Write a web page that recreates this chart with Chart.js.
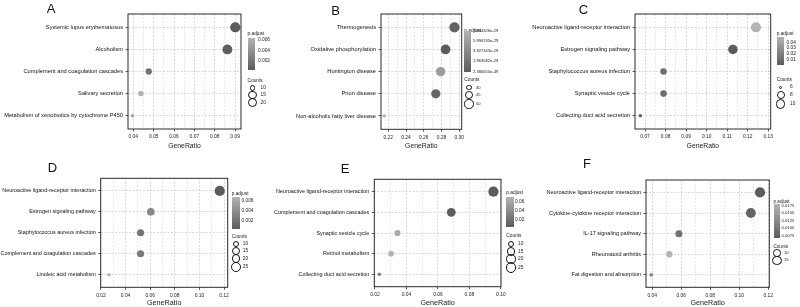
<!DOCTYPE html>
<html lang="en">
<head>
<meta charset="UTF-8">
<title>KEGG enrichment dot plots</title>
<script src="https://cdn.jsdelivr.net/npm/chart.js"></script>
<style>
  html, body { margin: 0; padding: 0; background: #fff; }
  body { width: 800px; height: 307px; position: relative; overflow: hidden;
         font-family: "Liberation Sans", Arial, sans-serif; color: #222; }
  canvas { position: absolute; }
  .tag { position: absolute; font-size: 13px; line-height: 1; transform: translate(-50%, -50%); color: #111; }
  .lg { position: absolute; white-space: nowrap; line-height: 1; transform: translateY(-50%); color: #222; }
  .bar { position: absolute; }
  .ring { position: absolute; border: 0.9px solid #111; border-radius: 50%; box-sizing: border-box; }
</style>
</head>
<body>
<script>
// ---- panel A ----
const catsA = ['Systemic lupus erythematosus', 'Alcoholism', 'Complement and coagulation cascades', 'Salivary secretion', 'Metabolism of xenobiotics by cytochrome P450'];
const ratioA = [0.0901, 0.0862, 0.0476, 0.0437, 0.0396];
const countA = [21, 20, 11, 10, 9];
const padjA = [0.0004, 0.0006, 0.0019, 0.0065, 0.0056];
const xTicksA = ['0.04', '0.05', '0.06', '0.07', '0.08', '0.09'];
const pLabelsA = ['0.006', '0.004', '0.002'];
const cLabelsA = [10, 15, 20];

// ---- panel B ----
const catsB = ['Thermogenesis', 'Oxidative phosphorylation', 'Huntington disease', 'Prion disease', 'Non-alcoholic fatty liver disease'];
const ratioB = [0.2945, 0.2845, 0.2790, 0.2735, 0.2155];
const countB = [54, 52, 51, 50, 39];
const padjB = [6e-30, 2.380650e-49, 5.6e-29, 9e-30, 7.854326e-29];
const xTicksB = ['0.22', '0.24', '0.26', '0.28', '0.30'];
const pLabelsB = ['7.854326e-29', '5.890745e-29', '3.927163e-29', '1.963582e-29', '2.380650e-49'];
const cLabelsB = [40, 45, 50];

// ---- panel C ----
const catsC = ['Neuroactive ligand-receptor interaction', 'Estrogen signaling pathway', 'Staphylococcus aureus infection', 'Synaptic vesicle cycle', 'Collecting duct acid secretion'];
const ratioC = [0.1240, 0.1128, 0.0790, 0.0790, 0.0677];
const countC = [11, 10, 7, 7, 6];
const padjC = [0.0493, 0.0014, 0.0115, 0.0105, 0.0050];
const xTicksC = ['0.07', '0.08', '0.09', '0.10', '0.11', '0.12', '0.13'];
const pLabelsC = ['0.04', '0.03', '0.02', '0.01'];
const cLabelsC = [6, 8, 10];

// ---- panel D ----
const catsD = ['Neuroactive ligand-receptor interaction', 'Estrogen signaling pathway', 'Staphylococcus aureus infection', 'Complement and coagulation cascades', 'Linoleic acid metabolism'];
const ratioD = [0.1165, 0.0605, 0.0522, 0.0522, 0.0265];
const countD = [27, 14, 12, 12, 6];
const padjD = [0.0004, 0.0035, 0.0022, 0.0026, 0.0068];
const xTicksD = ['0.02', '0.04', '0.06', '0.08', '0.10', '0.12'];
const pLabelsD = ['0.006', '0.004', '0.002'];
const cLabelsD = [10, 15, 20, 25];

// ---- panel E ----
const catsE = ['Neuroactive ligand-receptor interaction', 'Complement and coagulation cascades', 'Synaptic vesicle cycle', 'Retinol metabolism', 'Collecting duct acid secretion'];
const ratioE = [0.0953, 0.0685, 0.0343, 0.0302, 0.0228];
const countE = [25, 18, 9, 8, 6];
const padjE = [0.0035, 0.0060, 0.0640, 0.0727, 0.0350];
const xTicksE = ['0.02', '0.04', '0.06', '0.08', '0.10'];
const pLabelsE = ['0.06', '0.04', '0.02'];
const cLabelsE = [10, 15, 20, 25];

// ---- panel F ----
const catsF = ['Neuroactive ligand-receptor interaction', 'Cytokine-cytokine receptor interaction', 'IL-17 signaling pathway', 'Rheumatoid arthritis', 'Fat digestion and absorption'];
const ratioF = [0.1143, 0.1080, 0.0584, 0.0518, 0.0393];
const countF = [17, 16, 9, 8, 6];
const padjF = [0.0068, 0.0078, 0.0095, 0.0181, 0.0120];
const xTicksF = ['0.04', '0.06', '0.08', '0.10', '0.12'];
const pLabelsF = ['0.0175', '0.0150', '0.0125', '0.0100', '0.0075'];
const cLabelsF = [10, 15];

const FONT = '"Liberation Sans", Arial, sans-serif';
const DARK = [92, 92, 92], LIGHT = [180, 180, 180];

// layout of each panel (page pixels)
const panels = [
  { tag: 'A', tagX: 51, tagY: 7.5, cats: catsA, ratio: ratioA, count: countA, padj: padjA, ticks: xTicksA, pLabels: pLabelsA, cLabels: cLabelsA,
    box: { cl: 0, ct: 8, cb: 150, left: 128, top: 14, right: 241, bottom: 129, xmin: 0.0374, xmax: 0.0929, catFs: 5.7, tickFs: 4.9, titleFs: 6.8 },
    leg: { x: 247.5, titleY: 34, barTop: 37.5, barH: 32.5, barW: 7.5, labX: 258, fs: 4.8, countY: 80.5, ringX: 252.5, ringY: [88, 95, 102.5], ringLabX: 259.5 } },
  { tag: 'B', tagX: 335.5, tagY: 10, cats: catsB, ratio: ratioB, count: countB, padj: padjB, ticks: xTicksB, pLabels: pLabelsB, cLabels: cLabelsB,
    box: { cl: 270, ct: 8, cb: 150, left: 381, top: 14, right: 461.7, bottom: 129.3, xmin: 0.2118, xmax: 0.3027, catFs: 5.7, tickFs: 4.9, titleFs: 6.8 },
    leg: { x: 464.3, titleY: 30.5, barTop: 31, barH: 40.5, barW: 7, labX: 473, fs: 4.1, titleFs: 4.8, countY: 80.3, ringX: 469, ringY: [87.5, 95, 104], ringLabX: 475 } },
  { tag: 'C', tagX: 583.5, tagY: 9, cats: catsC, ratio: ratioC, count: countC, padj: padjC, ticks: xTicksC, pLabels: pLabelsC, cLabels: cLabelsC,
    box: { cl: 520, ct: 8, cb: 150, left: 635, top: 14, right: 770.7, bottom: 129, xmin: 0.0651, xmax: 0.1312, catFs: 5.7, tickFs: 4.9, titleFs: 6.8 },
    leg: { x: 776.7, titleY: 33.7, barTop: 37.3, barH: 27.7, barW: 7.3, labX: 786.5, fs: 4.8, countY: 80, ringX: 780.7, ringY: [87.3, 95, 104], ringLabX: 789 } },
  { tag: 'D', tagX: 52.5, tagY: 167, cats: catsD, ratio: ratioD, count: countD, padj: padjD, ticks: xTicksD, pLabels: pLabelsD, cLabels: cLabelsD,
    box: { cl: 0, ct: 172, cb: 307, left: 100.7, top: 178.3, right: 227.7, bottom: 287.3, xmin: 0.0198, xmax: 0.1230, catFs: 5.45, tickFs: 4.9, titleFs: 7.2 },
    leg: { x: 231.7, titleY: 193.7, barTop: 197, barH: 31.5, barW: 8, labX: 241.5, fs: 4.8, countY: 236.5, ringX: 236, ringY: [244, 251.2, 258.7, 267], ringLabX: 241.8 } },
  { tag: 'E', tagX: 345, tagY: 167.5, cats: catsE, ratio: ratioE, count: countE, padj: padjE, ticks: xTicksE, pLabels: pLabelsE, cLabels: cLabelsE,
    box: { cl: 265, ct: 172, cb: 307, left: 374.3, top: 179.3, right: 501, bottom: 286.7, xmin: 0.0196, xmax: 0.1001, catFs: 5.45, tickFs: 4.9, titleFs: 7.2 },
    leg: { x: 506.3, titleY: 193.3, barTop: 196.7, barH: 30.6, barW: 7.3, labX: 515, fs: 4.8, countY: 236, ringX: 511, ringY: [244, 251.5, 259, 267.5], ringLabX: 517 } },
  { tag: 'F', tagX: 587, tagY: 162.5, cats: catsF, ratio: ratioF, count: countF, padj: padjF, ticks: xTicksF, pLabels: pLabelsF, cLabels: cLabelsF,
    box: { cl: 530, ct: 172, cb: 307, left: 646, top: 180, right: 769.3, bottom: 287.3, xmin: 0.0357, xmax: 0.1207, catFs: 5.5, tickFs: 4.9, titleFs: 7.2 },
    leg: { x: 773.5, titleY: 202, barTop: 204.3, barH: 33.4, barW: 6.5, labX: 781.5, fs: 4.2, titleFs: 4.6, countY: 246.5, ringX: 777, ringY: [253, 260.3], ringLabX: 783 } }
];

// size scale like ggplot's area palette
function dotRadius(c, lo, hi) {
  const t = hi > lo ? Math.min(1, Math.max(0, (c - lo) / (hi - lo))) : 1;
  return 1.8 + 3.3 * Math.sqrt(t);
}
function mix(t) {
  const c = DARK.map((d, k) => Math.round(d + (LIGHT[k] - d) * t));
  return 'rgb(' + c.join(',') + ')';
}
function shade(p, lo, hi) { return mix(hi > lo ? (p - lo) / (hi - lo) : 0); }

const frame = {
  id: 'frame',
  afterDraw(chart) {
    const { ctx, chartArea: a } = chart;
    ctx.save();
    ctx.strokeStyle = '#2b2b2b';
    ctx.lineWidth = 1;
    ctx.strokeRect(a.left, a.top, a.right - a.left, a.bottom - a.top);
    ctx.restore();
  }
};

function addText(txt, x, y, fs) {
  const d = document.createElement('div');
  d.className = 'lg';
  d.textContent = txt;
  d.style.left = x + 'px';
  d.style.top = y + 'px';
  d.style.fontSize = fs + 'px';
  document.body.appendChild(d);
}

function drawPanel(P) {
  const b = P.box;
  const cLo = Math.min(...P.count), cHi = Math.max(...P.count);
  const pLo = Math.min(...P.padj), pHi = Math.max(...P.padj);

  // major + minor grid positions
  const major = P.ticks.map(Number);
  const step = major[1] - major[0];
  const grid = [];
  if (major[0] - step / 2 >= b.xmin) grid.push(major[0] - step / 2);
  major.forEach((v, i) => {
    grid.push(v);
    if (i < major.length - 1) grid.push(v + step / 2);
  });
  if (major[major.length - 1] + step / 2 <= b.xmax) grid.push(major[major.length - 1] + step / 2);
  const isMajor = v => major.some(m => Math.abs(m - v) < 1e-9);
  const labelOf = v => { const i = major.findIndex(m => Math.abs(m - v) < 1e-9); return i < 0 ? '' : P.ticks[i]; };

  const cv = document.createElement('canvas');
  const W = Math.ceil(b.right - b.cl + 8), H = b.cb - b.ct;
  cv.width = W; cv.height = H;
  cv.style.left = b.cl + 'px'; cv.style.top = b.ct + 'px';
  cv.style.width = W + 'px'; cv.style.height = H + 'px';
  document.body.appendChild(cv);

  new Chart(cv, {
    type: 'bubble',
    data: {
      datasets: [{
        data: P.ratio.map((x, i) => ({ x: x, y: i, r: dotRadius(P.count[i], cLo, cHi) })),
        backgroundColor: P.padj.map(p => shade(p, pLo, pHi)),
        borderWidth: 0,
        hoverBorderWidth: 0,
        clip: 8
      }]
    },
    options: {
      responsive: false,
      animation: false,
      events: [],
      layout: { padding: { top: b.top - b.ct, right: W - (b.right - b.cl), left: 0, bottom: 0 } },
      plugins: { legend: { display: false }, tooltip: { enabled: false } },
      scales: {
        x: {
          type: 'linear', min: b.xmin, max: b.xmax,
          afterFit: s => { s.height = b.cb - b.bottom; },
          afterBuildTicks: s => { s.ticks = grid.map(v => ({ value: v })); },
          ticks: { autoSkip: false, maxRotation: 0, padding: 2.5, color: '#222',
                   font: { size: b.tickFs, family: FONT }, callback: v => labelOf(v) },
          grid: { color: c => isMajor(c.tick.value) ? '#c8c8c8' : '#dedede', lineWidth: 0.7,
                  tickLength: 2.5, tickWidth: 0.8, tickBorderDash: [],
                  tickColor: c => isMajor(c.tick.value) ? '#333' : 'rgba(0,0,0,0)' },
          border: { display: false, dash: [2, 1.5] },
          title: { display: true, text: 'GeneRatio', color: '#1a1a1a', font: { size: b.titleFs, family: FONT }, padding: { top: 0, bottom: 0 } }
        },
        y: {
          type: 'linear', reverse: true, min: -0.6, max: P.cats.length - 0.4,
          afterFit: s => { s.width = b.left - b.cl; },
          afterBuildTicks: s => { s.ticks = P.cats.map((c, i) => ({ value: i })); },
          ticks: { autoSkip: false, padding: 2.5, color: '#111',
                   font: { size: b.catFs, family: FONT }, callback: v => P.cats[Math.round(v)] },
          grid: { color: '#c8c8c8', lineWidth: 0.7, tickLength: 2.5, tickWidth: 0.8, tickColor: '#333', tickBorderDash: [] },
          border: { display: false, dash: [2, 1.5] }
        }
      }
    },
    plugins: [frame]
  });

  // panel letter
  const t = document.createElement('div');
  t.className = 'tag';
  t.textContent = P.tag;
  t.style.left = P.tagX + 'px';
  t.style.top = P.tagY + 'px';
  document.body.appendChild(t);

  // p.adjust colour bar
  const L = P.leg;
  addText('p.adjust', L.x, L.titleY, L.titleFs || L.fs);
  const bar = document.createElement('div');
  bar.className = 'bar';
  bar.style.left = L.x + 'px';
  bar.style.top = L.barTop + 'px';
  bar.style.width = L.barW + 'px';
  bar.style.height = L.barH + 'px';
  bar.style.background = 'linear-gradient(to bottom, ' + mix(1) + ', ' + mix(0) + ')';
  document.body.appendChild(bar);
  P.pLabels.forEach(s => {
    const v = Number(s);
    addText(s, L.labX, L.barTop + (pHi - v) / (pHi - pLo) * L.barH, L.fs);
  });

  // Counts size legend
  addText('Counts', L.x, L.countY, L.titleFs || L.fs);
  P.cLabels.forEach((c, i) => {
    const r = dotRadius(c, cLo, cHi);
    const ring = document.createElement('div');
    ring.className = 'ring';
    ring.style.left = (L.ringX - r) + 'px';
    ring.style.top = (L.ringY[i] - r) + 'px';
    ring.style.width = (2 * r) + 'px';
    ring.style.height = (2 * r) + 'px';
    document.body.appendChild(ring);
    addText(String(c), L.ringLabX + 1, L.ringY[i], L.fs);
  });
}

panels.forEach(drawPanel);
</script>
</body>
</html>
